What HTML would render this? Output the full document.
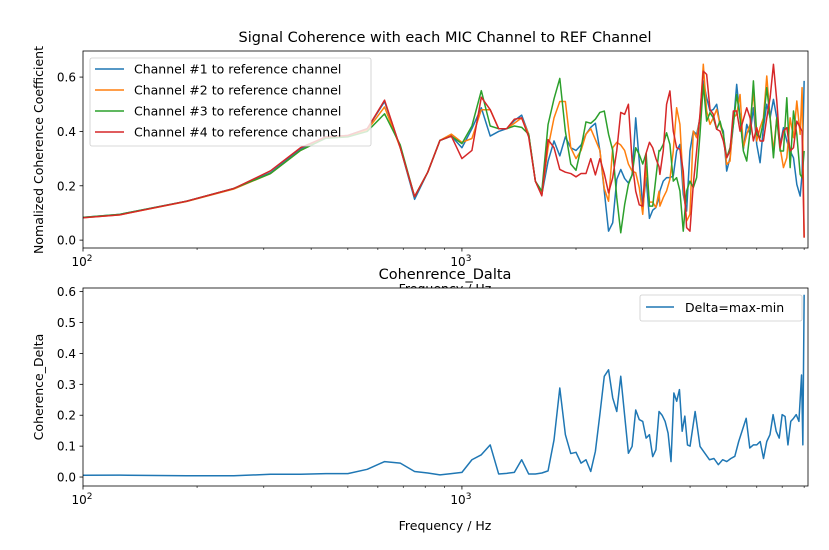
<!DOCTYPE html>
<html><head><meta charset="utf-8"><style>
body{margin:0;background:#fff;}
svg text{font-family:"DejaVu Sans","Liberation Sans",sans-serif;fill:#000;}
</style></head><body>
<svg id="fig" width="829" height="545" viewBox="0 0 829 545" xmlns="http://www.w3.org/2000/svg">
<rect x="0" y="0" width="829" height="545" fill="#fff"/>
<defs>
<clipPath id="c1"><rect x="83" y="51" width="725" height="197"/></clipPath>
<clipPath id="c2"><rect x="83" y="288" width="725" height="198"/></clipPath>
</defs>
<text x="445" y="42" font-size="14.5" text-anchor="middle">Signal Coherence with each MIC Channel to REF Channel</text>
<g id="ax1"></g>
<text x="445" y="293" font-size="12.5" text-anchor="middle">Frequency / Hz</text>
<rect x="83" y="288" width="725" height="198" fill="#fff"/>
<text x="445" y="279" font-size="14.5" text-anchor="middle">Cohenrence_Dalta</text>
<g id="ax2"></g>
<text transform="translate(43,150) rotate(-90)" font-size="12.5" text-anchor="middle">Nomalized Coherence Coefficient</text>
<text transform="translate(43,387) rotate(-90)" font-size="12.5" text-anchor="middle">Coherence_Delta</text>
<text x="445" y="530" font-size="12.5" text-anchor="middle">Frequency / Hz</text>
</svg>
<script>
const freqs = [62.5,125,187.5,250,312.5,375,437.5,500,562.5,625,687.5,750,812.5,875,937.5,1000,1062.5,1125,1187.5,1250,1312.5,1375,1437.5,
1500,1562.5,1625,1687.5,1750,1812.5,1875,1937.5,2000,2062.5,2125,2187.5,2250,2312.5,2375,2437.5,2500,2562.5,2625,2687.5,2750,2812.5,2875,2937.5,3000,3062.5,3125,3187.5,3250,3312.5,
3330,3398,3468,3539,3612,3686,3761,3838,3917,3997,4079,4163,4248,4335,4424,4515,4607,4702,4798,4896,4997,5099,5204,5310,5419,5530,5644,5760,5878,5998,6121,6247,6375,6506,6639,6775,6914,7056,7200,7348,7499,7652,7809,7900,8000];
const ch1 = [0.06,0.095,0.143,0.19,0.248,0.335,0.38,0.385,0.41,0.51,0.34,0.15,0.25,0.367,0.383,0.34,0.41,0.487,0.383,0.40,0.41,0.44,0.46,
0.39,0.217,0.168,0.29,0.365,0.31,0.38,0.34,0.33,0.35,0.39,0.415,0.43,0.33,0.18,0.033,0.064,0.224,0.26,0.227,0.21,0.24,0.45,0.29,0.12,0.23,0.08,0.11,0.12,0.155,
0.181,0.217,0.23,0.23,0.236,0.328,0.352,0.168,0.107,0.328,0.401,0.389,0.45,0.586,0.524,0.475,0.481,0.50,0.426,0.401,0.254,0.303,0.426,0.573,0.45,0.334,0.426,0.389,0.487,0.352,0.285,0.414,0.50,0.45,0.518,0.45,0.352,0.414,0.365,0.328,0.303,0.205,0.162,0.242,0.586];
const ch2 = [0.06,0.093,0.142,0.188,0.245,0.33,0.378,0.385,0.405,0.49,0.34,0.16,0.25,0.367,0.39,0.36,0.374,0.48,0.48,0.41,0.41,0.43,0.45,
0.39,0.217,0.168,0.34,0.45,0.51,0.51,0.34,0.30,0.33,0.39,0.41,0.37,0.33,0.19,0.143,0.34,0.36,0.35,0.33,0.28,0.254,0.248,0.193,0.095,0.27,0.14,0.14,0.12,0.18,
0.125,0.156,0.181,0.224,0.328,0.487,0.426,0.205,0.07,0.095,0.401,0.377,0.45,0.647,0.475,0.426,0.45,0.481,0.426,0.389,0.279,0.291,0.45,0.463,0.536,0.34,0.389,0.426,0.549,0.365,0.414,0.45,0.604,0.45,0.328,0.45,0.34,0.267,0.303,0.45,0.377,0.512,0.389,0.561,0.009];
const ch3 = [0.06,0.095,0.143,0.19,0.245,0.33,0.375,0.38,0.40,0.465,0.35,0.16,0.25,0.367,0.383,0.355,0.42,0.55,0.42,0.41,0.41,0.42,0.415,
0.39,0.217,0.18,0.425,0.52,0.595,0.40,0.28,0.257,0.34,0.435,0.43,0.445,0.47,0.475,0.39,0.33,0.156,0.027,0.13,0.205,0.24,0.34,0.315,0.28,0.32,0.125,0.125,0.23,0.33,
0.328,0.352,0.395,0.352,0.217,0.23,0.181,0.033,0.181,0.217,0.193,0.23,0.389,0.573,0.438,0.469,0.45,0.408,0.438,0.389,0.303,0.34,0.426,0.536,0.45,0.328,0.291,0.401,0.586,0.389,0.377,0.438,0.561,0.45,0.303,0.45,0.328,0.328,0.524,0.267,0.475,0.389,0.242,0.23,0.328];
const ch4 = [0.06,0.093,0.143,0.19,0.255,0.34,0.38,0.385,0.41,0.515,0.34,0.16,0.25,0.367,0.383,0.30,0.33,0.526,0.48,0.41,0.41,0.445,0.45,
0.38,0.217,0.163,0.37,0.34,0.26,0.25,0.245,0.233,0.245,0.245,0.30,0.24,0.30,0.245,0.174,0.23,0.33,0.47,0.463,0.50,0.29,0.18,0.13,0.125,0.32,0.36,0.34,0.30,0.27,
0.242,0.328,0.50,0.549,0.401,0.34,0.334,0.254,0.046,0.033,0.205,0.328,0.463,0.622,0.61,0.481,0.463,0.408,0.401,0.365,0.303,0.328,0.475,0.475,0.401,0.444,0.487,0.45,0.365,0.414,0.365,0.365,0.45,0.524,0.647,0.512,0.34,0.401,0.414,0.328,0.34,0.438,0.414,0.401,0.009];
const deltaFreqs = [62.5,125,187.5,250,312.5,375,437.5,500,562.5,625,687.5,750,812.5,875,937.5,1000,1062.5,1125,1187.5,1250,1312.5,1375,1437.5,1500,1562.5,1625,1687.5,1750,1812.5,1875,1937.5,2000,2062.5,2125,2187.5,2250,2312.5,2375,2437.5,2500,2562.5,2625,2687.5,2750,2812.5,2875,2937.5,3000,3062.5,3125,3187.5,3250,3312.5,3375,3437.5,3500,3562.5,3625,3687.5,3750,3812.5,3875,3937.5,
4000,4125,4250,4375,4500,4625,4750,4875,5000,5125,5250,5375,5500,5625,5750,5875,6000,6125,6250,6375,6500,6625,6750,6875,7000,7125,7250,7375,7500,7625,7750,7875,7937.5,8000];
const delta = [0.005,0.006,0.004,0.004,0.009,0.009,0.011,0.011,0.025,0.05,0.045,0.018,0.013,0.007,0.011,0.015,0.056,0.072,0.104,0.01,0.012,0.015,0.056,0.01,0.01,0.013,0.02,0.12,0.288,0.137,0.076,0.08,0.045,0.056,0.018,0.083,0.203,0.326,0.347,0.256,0.212,0.326,0.2,0.077,0.099,0.217,0.186,0.18,0.126,0.137,0.066,0.088,0.212,0.2,0.18,0.142,0.05,0.272,0.245,0.283,0.148,0.197,0.104,
0.10,0.212,0.099,0.077,0.056,0.06,0.04,0.056,0.05,0.06,0.067,0.115,0.153,0.19,0.094,0.104,0.104,0.115,0.06,0.115,0.137,0.202,0.148,0.126,0.202,0.196,0.104,0.18,0.19,0.202,0.18,0.33,0.104,0.59];
const seriesNames = ["Channel #1 to reference channel","Channel #2 to reference channel","Channel #3 to reference channel","Channel #4 to reference channel"];
const colors = ["#1f77b4","#ff7f0e","#2ca02c","#d62728"];
const ticks1 = [0,0.2,0.4,0.6];
const ticks1Labels = ["0.0","0.2","0.4","0.6"];
const ticks2 = [0,0.1,0.2,0.3,0.4,0.5,0.6];
const ticks2Labels = ["0.0","0.1","0.2","0.3","0.4","0.5","0.6"];

const NS="http://www.w3.org/2000/svg";
const X0=83,X1=808,FMIN=100,FMAX=8190;
function xs(f){return X0+(Math.log10(f)-Math.log10(FMIN))/(Math.log10(FMAX)-Math.log10(FMIN))*(X1-X0);}
function mkY(top,bot,vTop,vBot){return v=>top+(vTop-v)/(vTop-vBot)*(bot-top);}
const y1=mkY(51,248,0.696,-0.029);
const y2=mkY(288,486,0.6117,-0.029);
function el(tag,attrs,parent){const e=document.createElementNS(NS,tag);for(const k in attrs)e.setAttribute(k,attrs[k]);parent.appendChild(e);return e;}

function drawAxes(g,top,bot,ys,ticks,labels,clip){
  el('rect',{x:X0,y:top,width:X1-X0,height:bot-top,fill:'#fff'},g);
  // x ticks
  for(let d=100;d<=1000;d*=10){
    for(let m=1;m<10;m++){
      const f=d*m; if(f>FMAX) break;
      const x=xs(f);
      const t=el('line',{x1:x,x2:x,y1:bot,y2:bot+(m===1?3.5:2),stroke:'#000','stroke-width':m===1?0.8:0.6},g);
      
      
      if(m===1){
        const tx=el('text',{x:x-1,y:bot+18,'font-size':12,'text-anchor':'middle'},g);
        
        
        tx.textContent='10';
        const sp=el('tspan',{dy:-5,'font-size':9},tx); sp.textContent=(d===100?'2':'3');
      }
    }
  }
  ticks.forEach((v,i)=>{
    const y=ys(v);
    const t=el('line',{x1:X0-3.5,x2:X0,y1:y,y2:y,stroke:'#000','stroke-width':0.8},g);
    
    
    const tx=el('text',{x:X0-7,y:y+4.5,'font-size':12,'text-anchor':'end'},g);
    
    
    tx.textContent=labels[i];
  });
}
function line(g,fr,vals,ys,color,clip,name){
  const d=fr.map((f,i)=>(i?'L':'M')+xs(f).toFixed(2)+','+ys(vals[i]).toFixed(2)).join('');
  const p=el('path',{d:d,fill:'none',stroke:color,'stroke-width':1.5,'stroke-linejoin':'round','clip-path':'url(#'+clip+')'},g);
  
  
}
const g1=document.getElementById('ax1'), g2=document.getElementById('ax2');
drawAxes(g1,51,248,y1,ticks1,ticks1Labels,'c1');
[ch1,ch2,ch3,ch4].forEach((s,i)=>line(g1,freqs,s,y1,colors[i],'c1','series-channel-'+(i+1)));
el('rect',{x:X0,y:51,width:X1-X0,height:197,fill:'none',stroke:'#000','stroke-width':0.8},g1);
// legend 1
const lg=el('g',{},g1);


el('rect',{x:90,y:58,width:281,height:88,rx:2,fill:'#fff','fill-opacity':0.8,stroke:'#ccc','stroke-width':0.8},lg);
seriesNames.forEach((n,i)=>{
  const y=69+i*21;
  const ln=el('line',{x1:95,x2:124,y1:y,y2:y,stroke:colors[i],'stroke-width':1.5},lg);
  
  
  const t=el('text',{x:134,y:y+4.5,'font-size':12.5},lg);
  
  
  t.textContent=n;
});
drawAxes(g2,288,486,y2,ticks2,ticks2Labels,'c2');
line(g2,deltaFreqs,delta,y2,colors[0],'c2','series-delta');
el('rect',{x:X0,y:288,width:X1-X0,height:198,fill:'none',stroke:'#000','stroke-width':0.8},g2);
const lg2=el('g',{},g2);


el('rect',{x:640,y:295,width:162,height:26,rx:2,fill:'#fff','fill-opacity':0.8,stroke:'#ccc','stroke-width':0.8},lg2);
el('line',{x1:646,x2:674,y1:307,y2:307,stroke:colors[0],'stroke-width':1.5},lg2);
const t2=el('text',{x:685,y:312,'font-size':12.5},lg2);


t2.textContent='Delta=max-min';
</script>
</body></html>
